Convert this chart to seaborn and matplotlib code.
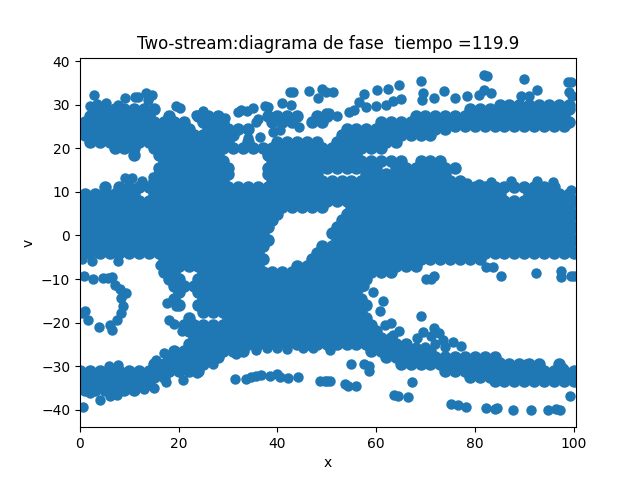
import matplotlib
matplotlib.use("Agg")
import matplotlib.pyplot as plt
import seaborn as sns
import pandas as pd

title = "Two-stream:diagrama de fase  tiempo =119.9"

# phase-space particles read row by row: v level, then the x positions on it
row_v = [30, 29, 27.5, 26, 25, 24.5, 23, 21.5, 20, 18.5, 17, 15.5, 14, 12.5, 11, 9.5, 8, 6.5, 5, 3.5, 2, 0.5, -1, -2.5, -4,
         -5.5, -7, -8.5, -10, -11.5, -13, -14.5, -16, -17.5, -19, -20.5, -22, -23.5, -25, -26.5, -28, -29.5, -31, -32.5, -33.4, -34, -35.5]
row_x = [
 [85,87,89,91,93,95,97,99],
 [3,5,7,9,11,13,15,79,81,83,85,87,89,91,93,95,97,99],
 [2,4,6,8,10,12,14,18,24,26,28,38,40,42,44,48,50,68,70,72,74,76,78,80,82,84,86,88,90,92,94,96,98],
 [1,3,5,7,9,11,13,15,17,19,21,25,27,29,39,41,43,47,49,61,63,65,67,69,71,73,75,77,79,81,83,85,87,89,91,93,95,97,99],
 [76,78,80,82,84,86,88,90,92,94,96,98],
 [0,2,4,6,8,10,12,14,16,18,20,22,26,28,30,32,34,54,56,58,60,62,64,66,68,70,72,74],
 [1,3,5,7,9,11,13,15,17,19,21,23,25,27,29,31,53,55,57,59,61,63,65,67,69,71],
 [2,4,6,8,10,12,14,16,18,20,22,24,26,28,30,34,40,42,44,46,48,52,54,56,58,60,62,64],
 [7,9,11,15,17,19,21,23,25,27,29,31,33,35,37,39,41,43,45,47,49,51,53,55,57,59,61],
 [11,16,18,20,22,24,26,28,38,40,42,44,46,48,50,52,54,56],
 [17,19,21,23,25,27,29,39,41,43,45,47,49,51,53,55,57,59,61,63,65,69,71,73],
 [16,18,20,22,24,26,28,30,38,40,42,44,46,48,50,52,54,56,58,60,64,66,68,70,72,74,76],
 [16,18,20,22,24,26,28,30,38,40,42,44,46,48,58,60,62,64,66,68,70,72,74],
 [15,17,19,21,23,25,27,29,39,41,43,45,47,49,51,53,55,57,59,61,63,65,67,69,71,73,75,77],
 [5,8,10,12,14,16,18,20,22,24,26,28,30,32,34,36,38,40,42,44,46,48,50,52,54,56,58,60,62,64,66,68,70,72,74,76,78,80,82,84,86,88,90,92,94,96],
 [1,3,5,7,9,11,15,17,19,21,23,25,27,29,31,33,35,37,39,41,43,45,47,49,51,53,55,57,59,61,63,65,67,69,71,73,75,77,79,81,83,85,91,93,95,97,99],
 [0,2,4,6,8,10,12,14,16,18,20,22,24,26,28,30,32,34,36,38,40,42,44,46,48,50,52,54,56,58,60,62,64,66,68,70,72,74,76,78,80,82,84,86,88,90,92,94,96,98,100],
 [1,3,5,7,9,11,13,15,17,19,21,23,25,27,29,31,33,35,37,39,41,43,45,47,49,55,57,59,61,63,65,67,69,71,73,75,77,79,81,83,85,87,89,91,93,95,97,99],
 [0,2,4,6,8,10,12,14,16,18,20,22,24,26,28,30,32,34,36,38,40,54,56,58,60,62,64,66,68,70,72,74,76,78,80,82,84,86,88,90,92,94,96,98,100],
 [1,3,5,7,9,11,13,15,17,19,21,23,25,27,29,31,33,35,37,39,53,55,57,59,61,63,65,67,69,71,73,75,77,79,81,83,85,87,89,91,93,95,97,99],
 [0,2,4,6,8,10,12,14,16,18,20,22,24,26,28,30,32,34,36,38,52,54,56,58,60,62,64,66,68,70,72,74,76,78,80,82,84,86,88,90,92,94,96,98,100],
 [1,3,5,7,9,11,13,15,17,19,21,23,25,27,29,31,33,35,37,51,53,55,57,59,61,63,65,67,69,71,73,75,77,79,81,83,85,87,89,91,93,95,97,99],
 [0,2,4,6,8,10,12,14,16,18,20,22,24,26,28,30,32,34,36,38,52,54,56,58,60,62,64,66,68,70,72,74,76,78,80,82,84,86,88,90,92,94,96,98,100],
 [1,3,5,7,9,11,13,15,17,19,21,23,25,27,29,31,33,35,37,49,51,53,55,57,59,61,63,65,67,69,71,73,75,77,79,81,83,85,87,89,91,93,95,97,99],
 [0,2,4,6,8,10,12,14,16,18,20,22,24,26,28,30,32,34,36,48,50,52,54,56,58,60,62,64,66,68,70,72,74,76,78,80,82,84,86,88,90,92,94,96,98,100],
 [17,19,21,23,25,27,29,31,33,35,37,47,49,51,53,55,57,59,61,63,65,67,69,71,73,75,77,79,81],
 [18,20,22,24,26,28,30,32,34,36,44,46,48,50,52,54,56,58,60,62,64,66,68],
 [17,19,25,27,29,31,33,35,37,39,41,43,45,47,49,51,53,55,57,59,61,63],
 [18,20,24,26,28,30,32,34,36,38,40,42,44,46,48,50,52,54,56,58],
 [19,21,23,25,27,29,31,33,35,37,39,41,43,45,47,49,51,53,55,57],
 [20,24,26,28,30,32,34,36,38,40,42,44,46,48,50,52,54,56],
 [19,25,27,29,31,33,35,37,39,41,43,45,47,49,51,53,55,57],
 [20,24,26,28,30,32,34,36,38,40,42,44,46,48,50,52,54,56,58],
 [25,27,29,31,33,35,37,39,41,43,45,47,49,51,53,55,57],
 [22,30,32,34,36,38,40,42,44,46,48,50,52,54,56,58],
 [21,23,25,27,29,31,33,35,37,39,41,43,45,47,49,51,53,55,57,59],
 [22,24,26,28,30,32,34,36,38,40,42,44,46,48,50,52,54,56,58,60],
 [23,25,27,29,31,33,35,37,39,41,43,45,47,49,51,53,55,57,59,61,63],
 [22,24,26,28,30,32,34,36,38,40,42,44,46,48,50,52,54,56,58,60,62,64,66],
 [19,21,23,25,27,29,31,33,59,61,63,65,67,69,71],
 [18,20,22,24,26,28,62,64,66,68,70,72,74,76,78,80,82,84],
 [15,17,19,21,23,25,65,67,69,71,73,75,77,79,81,83,85,87,89,91,93,97],
 [0,2,4,6,8,10,12,14,16,18,20,22,24,74,76,78,80,82,84,86,88,90,92,94,96,98,100],
 [1,3,5,7,9,11,13,15,17,79,81,83,85,87,89,91,93,95,97,99],
 [84,86,88,90,92,94,96,98,100],
 [0,2,4,6,8,10,12,14],
 [1,3,5,7,9,11],
]

# stray particles outside the filled regions
stray_x = [2.8,13.4,14.5,9.1,11.1,11.8,13.8,2,5.3,7.8,3.4,20.2,19.4,42.5,43.2,46.4,49,48.2,41,42.8,37.4,38.1,35,33.8,32.7,32,
           25,23.6,27.7,29.3,36,35.6,39.2,40.5,36.4,34,44.4,9.1,10.5,12.5,14.8,51.2,49.8,57.5,60.1,62.4,64.6,65,63.5,62,60,58,
           56.5,55.6,54.6,69.1,69.6,69.3,71.8,73.7,76,78.4,81.8,82.4,89.9,98.9,99.4,81.8,80.9,83.3,89.4,92.6,91,99,99.6,50.4,49.8,52,
           78.4,80.9,83.3,87.3,92.6,95.8,99.5,
           0.5,2.4,7.8,16.2,0.9,2.7,4.7,6.5,7.1,8.1,9.4,8.4,8.8,8.4,7.4,6.1,6.4,3.8,1.6,1,0.4,5.6,17.6,19.5,18,19,20.7,
           0.7,31.4,33.7,34.7,35.7,36.6,38.5,39.9,40.5,42.2,44.1,48.6,49.6,50.6,7.8,5.8,17,15.5,20.9,4,7.4,2,6,13,15,17.5,23.8,26.9,
           31.7,35.7,37.8,40,42,45.2,47.2,50.6,
           70.2,71.2,71.8,82.3,83.6,85.3,92.3,97.5,97.5,99.5,100,57.6,59.3,61.4,60.7,69.1,61.7,63,64.7,63.4,68.3,69.6,71.8,72.8,71.1,73.5,75.5,77.1,72,70,74,68,
           85,90.4,92.7,97.8,
           50,53.6,54.3,56,54.9,57.6,58.6,58.5,67.2,63.7,64.4,66.4,75.2,76.6,78.2,82.3,84,84.4,87.7,91.4,94.9,96.5,97.2,99.3]
stray_v = [32.3,32.6,32.3,31.5,31.7,31.7,31,29.8,30.4,30,30.2,29.3,29.6,32.8,32.8,33.2,33.6,31.5,30.4,30,29.8,29.4,29.3,28.6,28.8,28.3,
           28.5,27.7,27.5,27,26.8,26,23.8,24.3,22.6,22.3,24.8,13.2,13.2,12.4,13.5,33,33,32.5,33.4,33.6,34.4,31.3,30.9,29.9,29.8,29.4,
           30.5,28.7,28.3,35.5,32.6,31,31.5,33.2,31.5,31.9,36.8,36.5,35.9,35.3,35.2,33.4,32.3,32.6,32,33.3,32,32.8,32,28,28,27.4,
           12.1,11.7,12.2,12.6,12.6,12.2,10.4,
           -5.3,-5.9,-5.9,-6.7,-9.4,-10.1,-9.8,-9.6,-11.3,-12.4,-13.2,-14.4,-16.3,-17.8,-19.3,-20.5,-21.6,-21,-19.5,-17.4,-17.8,-9.7,-15.5,-16.3,-19.3,-20.3,-22,
           -39.3,-33,-33,-32.4,-32.3,-32,-32.3,-31.7,-32.4,-32.6,-32.5,-33.4,-33.5,-33.3,-29.8,-30,-27,-28.5,-33.2,-37.8,-36.6,-36.2,-36.8,-35.2,-35,-33.6,-31.5,-29.6,
           -27.3,-26.2,-25.9,-25.8,-26,-25.8,-25.8,-26.2,
           -10,-9.9,-9.3,-7.3,-7.3,-9.4,-8.6,-8.2,-9.5,-9.4,-9.4,-11.7,-13,-15.1,-17.4,-18.4,-20.5,-20,-22,-22.8,-23.5,-22.1,-21.2,-22.5,-23.1,-23.9,-24.4,-25.4,-25,-25.5,-25.5,-25.5,
           -29,-29.4,-29.7,-30.4,
           -33.4,-34.2,-34.6,-34.6,-29.5,-29.5,-30,-31,-33.7,-36.6,-36.8,-37.1,-38.6,-39,-39.4,-39.7,-39.9,-39.7,-40,-40,-40,-39.8,-40,-36.8]

row_xs = [x for xr in row_x for x in xr]
row_vs = [v for v, xr in zip(row_v, row_x) for _ in xr]
dense = pd.DataFrame({"x": row_xs, "v": row_vs})
stray = pd.DataFrame({"x": stray_x, "v": stray_v})

fig, ax = plt.subplots(figsize=(6.4, 4.8), dpi=100)
sns.scatterplot(data=dense, x="x", y="v", s=36, color="#1f77b4", edgecolor="#1f77b4", linewidth=3, ax=ax)
sns.scatterplot(data=stray, x="x", y="v", s=36, color="#1f77b4", edgecolor="#1f77b4", linewidth=1.5, ax=ax)
ax.set_xlim(0, 100.5)
ax.set_ylim(-44, 40.8)
ax.set_xlabel("x")
ax.set_ylabel("v")
ax.set_title(title)
fig.savefig("out.png", dpi=100)
